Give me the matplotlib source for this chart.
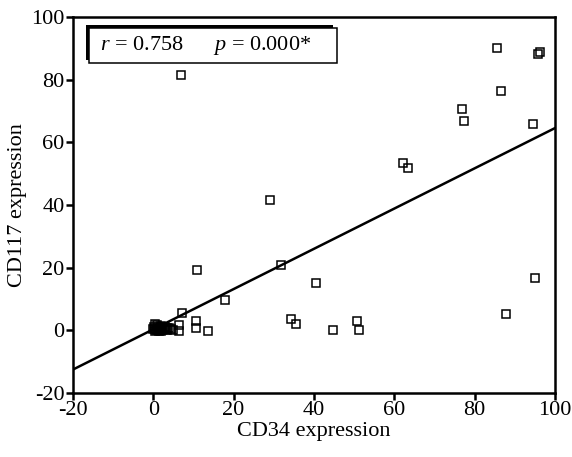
import matplotlib
matplotlib.use('Agg')
import matplotlib.pyplot as plt
from matplotlib.patches import Rectangle

# CD34 vs CD117 expression
cd34 = [7.0, 29.1, 10.9, 31.8, 17.9, 40.5, 34.3, 35.6, 44.8, 50.7, 51.2,
        62.2, 63.4, 76.9, 77.4, 85.6, 86.6, 94.5, 95.8, 96.2, 95.0, 87.8,
        7.2, 6.5, 6.3, 10.7, 10.7, 13.5, 5.0,
        0.0, 0.3, 0.5, 1.0, 1.2, 1.5, 2.0, 2.5, 3.0, 3.5, 4.5, 0.8, 1.8,
        0.2, 0.9, 1.6, 2.2, 2.8, 3.3, 4.0, 0.4, 1.3, 2.0]
cd117 = [81.5, 41.5, 19.3, 20.7, 9.6, 15.0, 3.5, 1.9, 0.0, 2.9, 0.0,
         53.4, 51.8, 70.6, 66.8, 90.1, 76.5, 65.8, 88.3, 88.7, 16.6, 5.1,
         5.5, 1.8, -0.3, 3.0, 0.9, -0.3, 0.2,
         0.3, 2.1, 0.5, 0.0, 1.0, 0.3, 0.5, 0.0, 0.5, 0.2, 0.3, 0.2, 1.3,
         1.2, 1.6, 0.8, 1.0, 1.1, 0.7, 0.9, -0.2, -0.3, -0.1]

# regression line
fit_slope = 0.642
fit_intercept = 0.33
fit_x = [-20, 100]

plt.rcParams['font.family'] = ['Liberation Serif', 'DejaVu Serif']
plt.rcParams['mathtext.fontset'] = 'custom'
plt.rcParams['mathtext.it'] = 'Liberation Serif:italic'
plt.rcParams['mathtext.rm'] = 'Liberation Serif'
plt.rcParams['axes.unicode_minus'] = False

fig = plt.figure(figsize=(5.72, 4.57), dpi=100)
ax = fig.add_axes([0.1276, 0.140, 0.8424, 0.8228])

ax.plot(cd34, cd117, linestyle='none', marker='s', markersize=5.5,
        markerfacecolor='none', markeredgecolor='black', markeredgewidth=1.1)
ax.plot(fit_x, [fit_slope * v + fit_intercept for v in fit_x],
        color='black', linewidth=1.8)

ax.set_xlim(-20, 100)
ax.set_ylim(-20, 100)
ax.set_xticks(range(-20, 101, 20))
ax.set_yticks(range(-20, 101, 20))
ax.tick_params(direction='out', length=5, width=1.8, labelsize=16, pad=1)
for s in ax.spines.values():
    s.set_linewidth(1.8)

ax.set_xlabel('CD34 expression', fontsize=16, labelpad=1)
ax.set_ylabel('CD117 expression', fontsize=16, labelpad=3)

# annotation box with shadow to the upper left
ax.add_patch(Rectangle((0.027, 0.886), 0.513, 0.093, transform=ax.transAxes,
                       facecolor='black', edgecolor='none', clip_on=False, zorder=5))
ax.add_patch(Rectangle((0.033, 0.878), 0.515, 0.093, transform=ax.transAxes,
                       facecolor='white', edgecolor='black', linewidth=1.1,
                       clip_on=False, zorder=6))
ax.text(0.056, 0.925, r'$r$ = 0.758', transform=ax.transAxes, fontsize=16,
        va='center', ha='left', zorder=7)
ax.text(0.290, 0.925, r'$p$ = 0.000*', transform=ax.transAxes, fontsize=16,
        va='center', ha='left', zorder=7)

fig.savefig('out.png', dpi=100)
